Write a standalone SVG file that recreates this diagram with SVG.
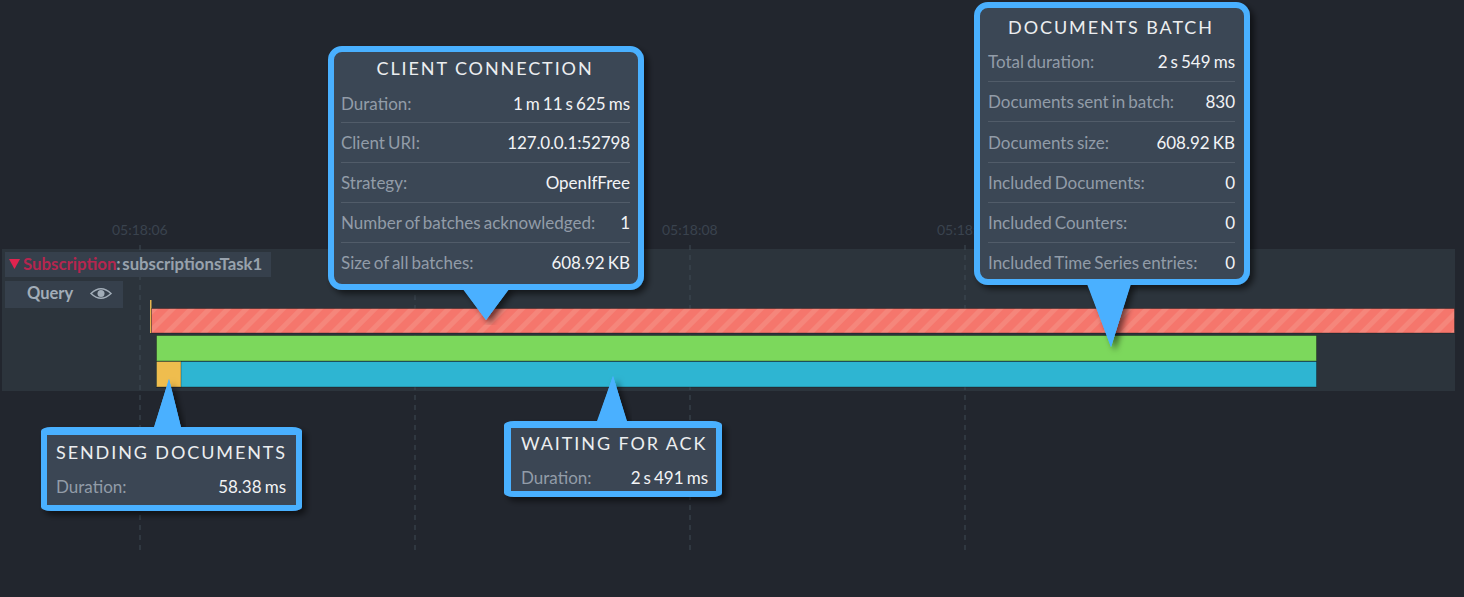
<svg xmlns="http://www.w3.org/2000/svg" width="1464" height="597" viewBox="0 0 1464 597">
<style>
text{font-family:Lato,"Open Sans","Liberation Sans",sans-serif}
.tick{font-size:14px;fill:#3a434e}
.grid{stroke:#3f4a55;stroke-width:1;stroke-dasharray:5 5}
.box{fill:#3b4654;stroke:#4ab0ff;stroke-width:6}
.flat{fill:#4ab0ff}
.inner{fill:#3b4654}
.tail{fill:#4ab0ff}
.sh{filter:url(#shadow)}
.title{font-size:18px;fill:#eceef0;letter-spacing:1.9px}
.k{font-size:17px;fill:#929ca8;word-spacing:-1.3px}
.v{font-size:17px;fill:#f2f3f5;text-anchor:end;word-spacing:-1.3px}
.sep{stroke:#515c69;stroke-width:1}
.lab{fill:#36404c}
.edge{stroke:#000;stroke-opacity:.3}
</style>
<defs>
<filter id="shadow" x="-15%" y="-15%" width="130%" height="130%"><feDropShadow dx="4" dy="4" stdDeviation="3" flood-color="#000" flood-opacity=".55"/></filter>
<pattern id="hatch" width="13" height="13" patternUnits="userSpaceOnUse" patternTransform="rotate(45)"><rect width="13" height="13" fill="#f5766c"/><rect width="5" height="13" fill="#f5867b"/></pattern>
</defs>
<rect width="1464" height="597" fill="#22262e"/>
<g id="ticks">
<text class="tick" x="112" y="235">05:18:06</text>
<text class="tick" x="662" y="235">05:18:08</text>
<text class="tick" x="937" y="235">05:18:09</text>
</g>
<rect id="track" x="2" y="249" width="1453" height="142" fill="#2c343c"/>
<g id="grid">
<line class="grid" x1="140" y1="245" x2="140" y2="552"/>
<line class="grid" x1="415" y1="245" x2="415" y2="552"/>
<line class="grid" x1="690" y1="245" x2="690" y2="552"/>
<line class="grid" x1="965" y1="245" x2="965" y2="552"/>
</g>
<g id="subscription-label">
<rect class="lab" x="5" y="252" width="266" height="25"/>
<path d="M9 259H20L14.500 269Z" fill="#e0244f"/>
<text x="23" y="270" font-size="16.800" font-weight="700" fill="#b5264f" word-spacing="-2.500">Subscription<tspan fill="#98a2ad">: subscriptionsTask1</tspan></text>
</g>
<g id="query-label">
<rect class="lab" x="5" y="281" width="118" height="27"/>
<text x="27" y="299" font-size="16.500" font-weight="700" fill="#a2adb8">Query</text>
<path d="M91 293.500Q101 284 111 293.500Q101 303 91 293.500Z" fill="none" stroke="#a2adb8" stroke-width="1.500"/>
<circle cx="101" cy="293.500" r="3.500" fill="#a2adb8"/>
</g>
<g id="bars">
<rect x="150" y="300" width="1.500" height="33" fill="#e8b64e"/>
<rect class="edge" x="151.500" y="308.500" width="1303" height="24.500" fill="url(#hatch)"/>
<rect class="edge" x="156.500" y="335.500" width="1160" height="25.500" fill="#7cd85c"/>
<rect class="edge" x="156.500" y="361.500" width="1160" height="25.500" fill="#2eb5d2"/>
<rect class="edge" x="156.500" y="361.500" width="24.500" height="25.500" fill="#efbd4e"/>
</g>
<g id="client-connection">
<path class="tail sh" d="M462 287H510L486 320Z"/>
<rect class="box sh" x="331" y="49" width="310" height="238" rx="11"/>
<path class="tail" d="M462 284H510V288L486 320L462 288Z"/>
<text class="title" x="485" y="75" text-anchor="middle">CLIENT CONNECTION</text>
<text class="k" x="341" y="109.500">Duration:</text><text class="v" x="630" y="109.500">1 m 11 s 625 ms</text>
<line class="sep" x1="341" x2="630" y1="122.500" y2="122.500"/>
<text class="k" x="341" y="149">Client URI:</text><text class="v" x="630" y="149" letter-spacing="-0.130">127.0.0.1:52798</text>
<line class="sep" x1="341" x2="630" y1="162.500" y2="162.500"/>
<text class="k" x="341" y="189">Strategy:</text><text class="v" x="630" y="189">OpenIfFree</text>
<line class="sep" x1="341" x2="630" y1="202.500" y2="202.500"/>
<text class="k" x="341" y="229">Number of batches acknowledged:</text><text class="v" x="630" y="229">1</text>
<line class="sep" x1="341" x2="630" y1="242.500" y2="242.500"/>
<text class="k" x="341" y="269">Size of all batches:</text><text class="v" x="630" y="269">608.92 KB</text>
</g>
<g id="documents-batch">
<path class="tail sh" d="M1087 282H1131L1111 347Z"/>
<rect class="box sh" x="977" y="5" width="270" height="277" rx="11"/>
<path class="tail" d="M1087 279H1131V284L1111 347L1087 284Z"/>
<text class="title" x="1111" y="34" text-anchor="middle">DOCUMENTS BATCH</text>
<text class="k" x="988" y="67.500">Total duration:</text><text class="v" x="1235" y="67.500">2 s 549 ms</text>
<line class="sep" x1="988" x2="1235" y1="81.500" y2="81.500"/>
<text class="k" x="988" y="107.500">Documents sent in batch:</text><text class="v" x="1235" y="107.500">830</text>
<line class="sep" x1="988" x2="1235" y1="121.500" y2="121.500"/>
<text class="k" x="988" y="148.500">Documents size:</text><text class="v" x="1235" y="148.500">608.92 KB</text>
<line class="sep" x1="988" x2="1235" y1="162.500" y2="162.500"/>
<text class="k" x="988" y="189">Included Documents:</text><text class="v" x="1235" y="189">0</text>
<line class="sep" x1="988" x2="1235" y1="202.500" y2="202.500"/>
<text class="k" x="988" y="229">Included Counters:</text><text class="v" x="1235" y="229">0</text>
<line class="sep" x1="988" x2="1235" y1="242.500" y2="242.500"/>
<text class="k" x="988" y="268.500">Included Time Series entries:</text><text class="v" x="1235" y="268.500">0</text>
</g>
<g id="sending-documents">
<path class="tail sh" d="M154 428H181L169 379Z"/>
<rect class="flat sh" x="41" y="427" width="261" height="84" rx="10" ry="4"/>
<rect class="inner" x="47" y="435" width="249" height="70"/>
<path class="tail" d="M154 432V427L169 379L181 427V432Z"/>
<text class="title" x="56" y="459">SENDING DOCUMENTS</text>
<text class="k" x="56" y="493">Duration:</text><text class="v" x="286" y="493">58.38 ms</text>
</g>
<g id="waiting-for-ack">
<path class="tail sh" d="M597 423H627L613 376Z"/>
<rect class="flat sh" x="504" y="421" width="218" height="76" rx="10" ry="4"/>
<rect class="inner" x="511" y="428" width="205" height="63"/>
<path class="tail" d="M597 426V421L613 376L627 421V426Z"/>
<text class="title" x="521" y="450">WAITING FOR ACK</text>
<text class="k" x="521" y="484">Duration:</text><text class="v" x="708" y="484">2 s 491 ms</text>
</g>
</svg>
